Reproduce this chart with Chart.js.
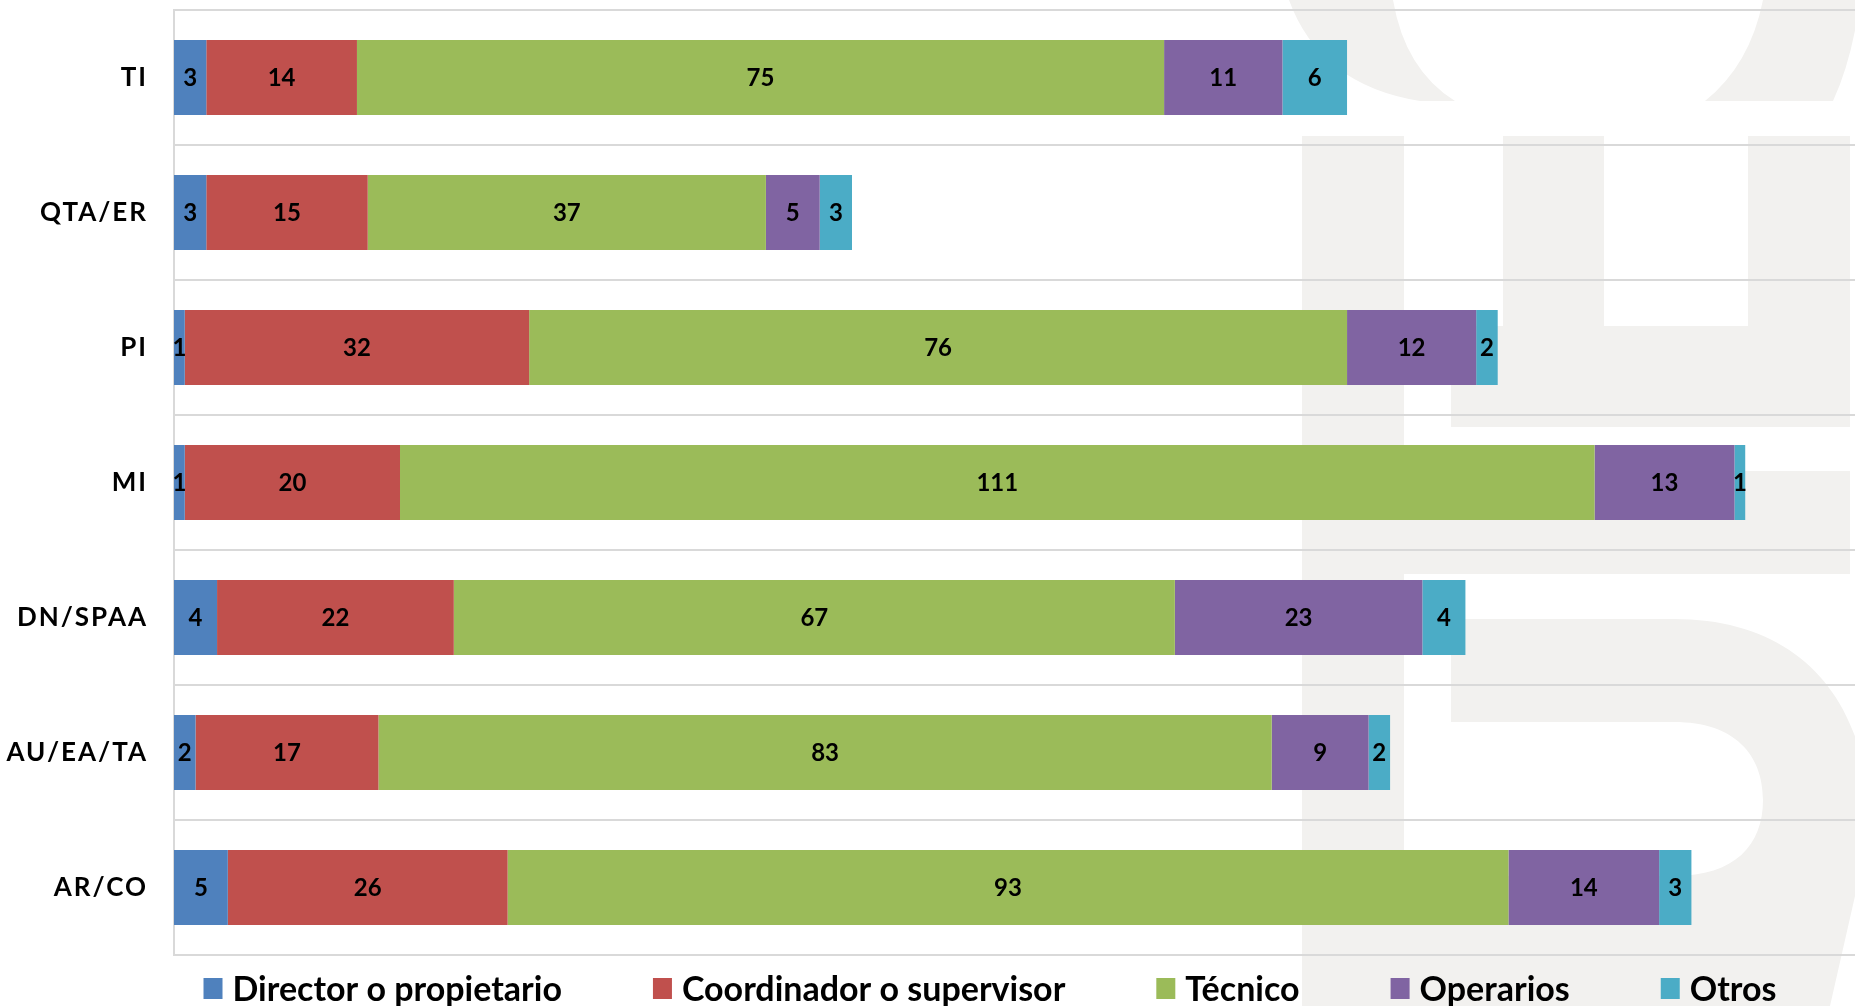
<!DOCTYPE html>
<html>
<head>
<meta charset="utf-8">
<script src="https://cdn.jsdelivr.net/npm/chart.js@4.4.1/dist/chart.umd.min.js"></script>
<style>
  html, body { margin: 0; padding: 0; background: #ffffff; }
  #wrap { width: 1855px; height: 1006px; position: relative; }
</style>
</head>
<body>
<div id="wrap"><canvas id="c" width="1855" height="1006"></canvas></div>
<script>
// ---- Data ----
const categories = ['TI', 'QTA/ER', 'PI', 'MI', 'DN/SPAA', 'AU/EA/TA', 'AR/CO'];
const seriesNames = ['Director o propietario', 'Coordinador o supervisor', 'Técnico', 'Operarios', 'Otros'];
const director    = [3, 3, 1, 1, 4, 2, 5];
const coordinador = [14, 15, 32, 20, 22, 17, 26];
const tecnico     = [75, 37, 76, 111, 67, 83, 93];
const operarios   = [11, 5, 12, 13, 23, 9, 14];
const otros       = [6, 3, 2, 1, 4, 2, 3];
const xMax = 156.2;

// ---- Styles ----
const colors = ['#4f81bd', '#c0504d', '#9bbb59', '#8064a2', '#4bacc6'];
const allSeries = [director, coordinador, tecnico, operarios, otros];

const datasets = allSeries.map((vals, i) => ({
  label: seriesNames[i],
  data: vals,
  backgroundColor: colors[i],
  borderWidth: 0,
  barPercentage: 0.556,
  categoryPercentage: 1.0
}));

// background watermark (decorative) + labels + legend
const extras = {
  id: 'extras',
  beforeDraw(chart) {
    const ctx = chart.ctx;
    ctx.save();
    ctx.fillStyle = '#f2f1ef';
    ctx.beginPath();
    ctx.moveTo(1289, 0);
    ctx.quadraticCurveTo(1320, 85, 1420, 101);
    ctx.lineTo(1455, 101);
    ctx.quadraticCurveTo(1405, 70, 1393, 0);
    ctx.closePath();
    ctx.fill();
    ctx.beginPath();
    ctx.moveTo(1763, 0);
    ctx.quadraticCurveTo(1750, 65, 1705, 101);
    ctx.lineTo(1833, 101);
    ctx.quadraticCurveTo(1852, 60, 1860, 0);
    ctx.closePath();
    ctx.fill();
    ctx.fillRect(1302, 136, 102, 870);
    ctx.fillRect(1503, 136, 101, 190);
    ctx.fillRect(1748, 136, 102, 291);
    ctx.fillRect(1451, 326, 399, 101);
    ctx.fillRect(1404, 471, 446, 103);
    ctx.beginPath();
    ctx.moveTo(1451, 619);
    ctx.lineTo(1674, 619);
    ctx.bezierCurveTo(1800, 619, 1870, 700, 1870, 830);
    ctx.lineTo(1830, 1006);
    ctx.lineTo(1404, 1006);
    ctx.lineTo(1404, 876);
    ctx.lineTo(1674, 876);
    ctx.bezierCurveTo(1735, 876, 1763, 845, 1763, 800);
    ctx.bezierCurveTo(1763, 755, 1735, 722, 1674, 722);
    ctx.lineTo(1451, 722);
    ctx.closePath();
    ctx.fill();
    ctx.restore();
    ctx.letterSpacing = '2px';
  },
  afterDatasetsDraw(chart) {
    const ctx = chart.ctx;
    ctx.letterSpacing = '0px';
    ctx.save();
    ctx.font = 'bold 24px Lato';
    ctx.fillStyle = '#000000';
    ctx.textAlign = 'center';
    ctx.textBaseline = 'middle';
    chart.data.datasets.forEach((ds, di) => {
      const meta = chart.getDatasetMeta(di);
      meta.data.forEach((bar, i) => {
        const cx = (bar.x + bar.base) / 2;
        ctx.fillText(String(ds.data[i]), cx, bar.y + 1);
      });
    });
    ctx.restore();
  },
  afterDraw(chart) {
    const ctx = chart.ctx;
    ctx.letterSpacing = '0px';
    ctx.save();
    ctx.font = 'bold 34px Lato';
    ctx.textBaseline = 'alphabetic';
    ctx.textAlign = 'left';
    const boxW = 19, boxH = 21, gapBox = 10, gapItem = 91;
    const items = chart.data.datasets.map(ds => ({ label: ds.label, color: ds.backgroundColor, w: ctx.measureText(ds.label).width }));
    let total = 0;
    items.forEach((it, i) => { total += boxW + gapBox + it.w + (i < items.length - 1 ? gapItem : 0); });
    let x = 990 - total / 2;
    const top = 978;
    items.forEach(it => {
      ctx.fillStyle = it.color;
      ctx.fillRect(x, top, boxW, boxH);
      ctx.fillStyle = '#000000';
      ctx.fillText(it.label, x + boxW + gapBox, top + boxH + 2);
      x += boxW + gapBox + it.w + gapItem;
    });
    ctx.restore();
  }
};

new Chart(document.getElementById('c'), {
  type: 'bar',
  data: { labels: categories, datasets },
  options: {
    indexAxis: 'y',
    responsive: false,
    animation: false,
    devicePixelRatio: 1,
    layout: { padding: { top: 10, bottom: 51, left: 0, right: 0 } },
    plugins: {
      legend: { display: false },
      tooltip: { enabled: false }
    },
    scales: {
      x: {
        stacked: true,
        display: false,
        min: 0,
        max: xMax
      },
      y: {
        stacked: true,
        offset: true,
        afterFit(scale) {
          scale.width = 174;
          scale.paddingTop = 0;
          scale.paddingBottom = 0;
        },
        grid: {
          offset: true,
          color: '#d9d9d9',
          lineWidth: 2,
          drawTicks: false
        },
        border: { display: true, color: '#d9d9d9', width: 2 },
        ticks: {
          padding: 26,
          color: '#000000',
          font: { family: 'Lato', weight: 'bold', size: 26 }
        }
      }
    }
  },
  plugins: [extras]
});
</script>
</body>
</html>
